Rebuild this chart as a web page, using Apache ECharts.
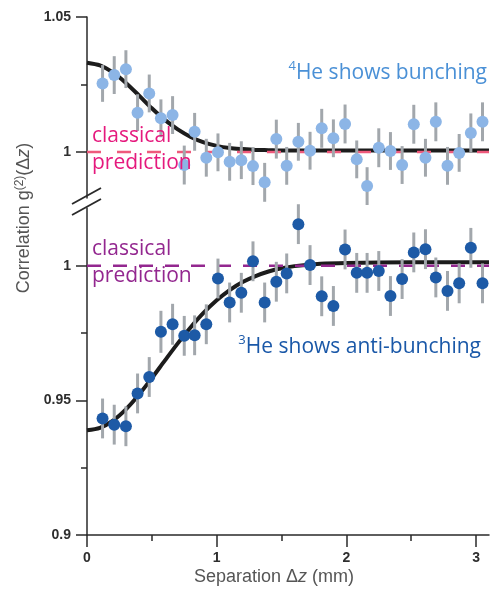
<!DOCTYPE html>
<html>
<head>
<meta charset="utf-8">
<script src="https://cdn.jsdelivr.net/npm/echarts@6/dist/echarts.min.js"></script>
<style>
html,body{margin:0;padding:0;background:#fff;}
#chart{width:490px;height:600px;}
</style>
</head>
<body>
<div id="chart"></div>
<script>
// ---- data ----
const separation = [0.12, 0.21, 0.30, 0.39, 0.48, 0.57, 0.66, 0.75, 0.83, 0.92, 1.01, 1.10, 1.19, 1.28, 1.37, 1.46, 1.54, 1.63, 1.72, 1.81, 1.90, 1.99, 2.08, 2.16, 2.25, 2.34, 2.43, 2.52, 2.61, 2.69, 2.78, 2.87, 2.96, 3.05];
const he4Values = [1.0254, 1.0285, 1.0307, 1.0146, 1.0217, 1.0125, 1.0137, 0.9952, 1.0075, 0.9979, 0.9999, 0.9964, 0.9970, 0.9948, 0.9888, 1.0048, 0.9949, 1.0038, 1.0005, 1.0088, 1.0051, 1.0104, 0.9973, 0.9874, 1.0016, 1.0004, 0.9952, 1.0103, 0.9979, 1.0112, 0.9949, 0.9997, 1.0071, 1.0112];
const he4Errors = [0.0068, 0.0070, 0.0070, 0.0068, 0.0070, 0.0070, 0.0070, 0.0072, 0.0070, 0.0070, 0.0070, 0.0070, 0.0070, 0.0070, 0.0072, 0.0072, 0.0070, 0.0070, 0.0070, 0.0072, 0.0070, 0.0072, 0.0070, 0.0070, 0.0072, 0.0070, 0.0070, 0.0072, 0.0070, 0.0072, 0.0070, 0.0070, 0.0072, 0.0072];
const he3Values = [0.9433, 0.9410, 0.9404, 0.9526, 0.9587, 0.9755, 0.9783, 0.9740, 0.9742, 0.9783, 0.9953, 0.9864, 0.9900, 1.0017, 0.9864, 0.9941, 0.9972, 1.0155, 1.0003, 0.9887, 0.9851, 1.0061, 0.9974, 0.9974, 0.9981, 0.9888, 0.9951, 1.0050, 1.0062, 0.9957, 0.9907, 0.9935, 1.0067, 0.9935];
const he3Errors = [0.0074, 0.0074, 0.0074, 0.0074, 0.0074, 0.0078, 0.0076, 0.0074, 0.0074, 0.0074, 0.0074, 0.0074, 0.0074, 0.0074, 0.0074, 0.0074, 0.0074, 0.0074, 0.0074, 0.0074, 0.0074, 0.0074, 0.0074, 0.0074, 0.0074, 0.0074, 0.0074, 0.0074, 0.0074, 0.0074, 0.0074, 0.0074, 0.0074, 0.0074];
const fitX = [0, 0.1, 0.2, 0.3, 0.4, 0.5, 0.6, 0.7, 0.8, 0.9, 1.0, 1.1, 1.2, 1.3, 1.4, 1.5, 1.6, 1.8, 2.0, 2.5, 3.1];
const he4Fit = [1.0331, 1.0321, 1.0295, 1.0256, 1.0210, 1.0162, 1.0119, 1.0084, 1.0056, 1.0036, 1.0023, 1.0015, 1.0011, 1.0008, 1.0007, 1.0006, 1.0006, 1.0006, 1.0006, 1.0006, 1.0006];
const he3Fit = [0.9389, 0.9398, 0.9425, 0.9467, 0.9521, 0.9583, 0.9648, 0.9712, 0.9772, 0.9826, 0.9872, 0.9910, 0.9940, 0.9962, 0.9979, 0.9991, 0.9999, 1.0008, 1.0011, 1.0013, 1.0013];
const classicalX = [0, 3.1];
const classicalValue = 1;
const xMajorTicks = [0, 1, 2, 3];
const xMinorTicks = [0.5, 1.5, 2.5];
const topMajorTicks = [1, 1.05];
const topMinorTicks = [1.025];
const bottomMajorTicks = [0.9, 0.95, 1];
const bottomMinorTicks = [0.925, 0.975];

// ---- build ----
const zip = (xs, ys) => xs.map((x, i) => [x, ys[i]]);
const zip3 = (xs, ys, es) => xs.map((x, i) => [x, ys[i], es[i]]);

const AX = '#2a2a2a';
const labelFont = {fontFamily: 'Liberation Sans', fontWeight: 'bold', fontSize: 14, color: '#2e2e2e'};

function errRender(params, api) {
  const x = api.value(0), y = api.value(1), e = api.value(2);
  const p1 = api.coord([x, y + e]);
  const p2 = api.coord([x, y - e]);
  return {type: 'line', shape: {x1: p1[0], y1: p1[1], x2: p2[0], y2: p2[1]},
          style: {stroke: '#a2a7ac', lineWidth: 3}};
}

function yMain(grid, min, max, majors) {
  return {
    type: 'value', gridIndex: grid, min: min, max: max,
    axisLine: {show: true, onZero: false, lineStyle: {color: AX, width: 1.5}},
    axisTick: {show: true, customValues: majors, length: 11, lineStyle: {color: AX, width: 1.5}},
    axisLabel: Object.assign({show: true, customValues: majors, margin: 16}, labelFont),
    splitLine: {show: false}
  };
}
function yMinor(grid, min, max, minors) {
  return {
    type: 'value', gridIndex: grid, min: min, max: max, position: 'left',
    axisLine: {show: false},
    axisTick: {show: true, customValues: minors, length: 6, lineStyle: {color: AX, width: 1.5}},
    axisLabel: {show: false},
    splitLine: {show: false}
  };
}

const option = {
  animation: false,
  backgroundColor: '#ffffff',
  grid: [
    {left: 87, width: 402, top: 17, height: 181},
    {left: 87, width: 402, top: 208, bottom: 65}
  ],
  xAxis: [
    {type: 'value', gridIndex: 0, min: 0, max: 3.1, show: false},
    {type: 'value', gridIndex: 1, min: 0, max: 3.1,
     axisLine: {show: true, onZero: false, lineStyle: {color: AX, width: 1.5}},
     axisTick: {show: true, customValues: xMajorTicks, length: 12, lineStyle: {color: AX, width: 1.5}},
     axisLabel: Object.assign({show: true, customValues: xMajorTicks, margin: 16}, labelFont),
     splitLine: {show: false}},
    {type: 'value', gridIndex: 1, min: 0, max: 3.1, position: 'bottom',
     axisLine: {show: false},
     axisTick: {show: true, customValues: xMinorTicks, length: 6, lineStyle: {color: AX, width: 1.5}},
     axisLabel: {show: false}, splitLine: {show: false}}
  ],
  yAxis: [
    yMain(0, 0.983, 1.05, topMajorTicks),
    yMinor(0, 0.983, 1.05, topMinorTicks),
    yMain(1, 0.9, 1.0215, bottomMajorTicks),
    yMinor(1, 0.9, 1.0215, bottomMinorTicks)
  ],
  series: [
    // top panel (4He)
    {type: 'line', xAxisIndex: 0, yAxisIndex: 0, data: zip(fitX, he4Fit), smooth: 0.3,
     showSymbol: false, lineStyle: {color: '#1c1c1c', width: 4}, z: 2},
    {type: 'line', xAxisIndex: 0, yAxisIndex: 0, data: classicalX.map(x => [x, classicalValue]),
     showSymbol: false, lineStyle: {color: '#ee5a7c', width: 2.5, type: [14, 16]}, z: 3},
    {type: 'custom', xAxisIndex: 0, yAxisIndex: 0, data: zip3(separation, he4Values, he4Errors),
     renderItem: errRender, encode: {x: 0, y: 1}, z: 4},
    {type: 'scatter', xAxisIndex: 0, yAxisIndex: 0, data: zip(separation, he4Values), symbolSize: 12,
     itemStyle: {color: '#8cb5e6', opacity: 1}, z: 5},
    // bottom panel (3He)
    {type: 'line', xAxisIndex: 1, yAxisIndex: 2, data: zip(fitX, he3Fit), smooth: 0.3,
     showSymbol: false, lineStyle: {color: '#1c1c1c', width: 4}, z: 2},
    {type: 'line', xAxisIndex: 1, yAxisIndex: 2, data: classicalX.map(x => [x, classicalValue]),
     showSymbol: false, lineStyle: {color: '#93278f', width: 2.5, type: [14, 12]}, z: 3},
    {type: 'custom', xAxisIndex: 1, yAxisIndex: 2, data: zip3(separation, he3Values, he3Errors),
     renderItem: errRender, encode: {x: 0, y: 1}, z: 4},
    {type: 'scatter', xAxisIndex: 1, yAxisIndex: 2, data: zip(separation, he3Values), symbolSize: 12,
     itemStyle: {color: '#1d5aa6', opacity: 1}, z: 5}
  ],
  graphic: [
    // axis break marks
    {type: 'line', z: 100, shape: {x1: 72, y1: 204, x2: 101, y2: 188}, style: {stroke: '#2a2a2a', lineWidth: 1.8}},
    {type: 'line', z: 100, shape: {x1: 72, y1: 215, x2: 101, y2: 199}, style: {stroke: '#2a2a2a', lineWidth: 1.8}},
    // axis titles
    {type: 'text', z: 100, x: 274, y: 577, style: {
      text: '{a|Separation Δ}{i|z}{a| (mm)}', align: 'center', verticalAlign: 'middle',
      rich: {a: {fontFamily: 'Liberation Sans', fontSize: 18, fill: '#555555'},
             i: {fontFamily: 'Liberation Sans', fontSize: 18, fontStyle: 'italic', fill: '#555555'}}}},
    {type: 'text', z: 100, x: 24, y: 218, rotation: Math.PI / 2, style: {
      text: '{a|Correlation g}{s|(2)}{a|(Δ}{i|z}{a|)}', align: 'center', verticalAlign: 'middle',
      rich: {a: {fontFamily: 'Liberation Sans', fontSize: 18, fill: '#555555', lineHeight: 21},
             s: {fontFamily: 'Liberation Sans', fontSize: 12, fill: '#555555', lineHeight: 12, verticalAlign: 'top'},
             i: {fontFamily: 'Liberation Sans', fontSize: 18, fontStyle: 'italic', fill: '#555555', lineHeight: 21}}}},
    // annotations
    {type: 'text', z: 100, x: 92, y: 136, style: {text: 'classical', fontFamily: 'Open Sans', fontSize: 21, fill: '#e5197d', verticalAlign: 'middle'}},
    {type: 'text', z: 100, x: 92, y: 163, style: {text: 'prediction', fontFamily: 'Open Sans', fontSize: 21, fill: '#e5197d', verticalAlign: 'middle'}},
    {type: 'text', z: 100, x: 92, y: 249, style: {text: 'classical', fontFamily: 'Open Sans', fontSize: 21, fill: '#93278f', verticalAlign: 'middle'}},
    {type: 'text', z: 100, x: 92, y: 276, style: {text: 'prediction', fontFamily: 'Open Sans', fontSize: 21, fill: '#93278f', verticalAlign: 'middle'}},
    {type: 'text', z: 100, x: 487, y: 73, style: {
      text: '{s|4}{t|He shows bunching}', align: 'right', verticalAlign: 'middle',
      rich: {t: {fontFamily: 'Open Sans', fontSize: 21, fill: '#4a90d6', lineHeight: 26},
             s: {fontFamily: 'Open Sans', fontSize: 13, fill: '#4a90d6', lineHeight: 15, verticalAlign: 'top'}}}},
    {type: 'text', z: 100, x: 481, y: 347, style: {
      text: '{s|3}{t|He shows anti-bunching}', align: 'right', verticalAlign: 'middle',
      rich: {t: {fontFamily: 'Open Sans', fontSize: 21, fill: '#1a58a8', lineHeight: 26},
             s: {fontFamily: 'Open Sans', fontSize: 13, fill: '#1a58a8', lineHeight: 15, verticalAlign: 'top'}}}}
  ]
};

const chart = echarts.init(document.getElementById('chart'), null, {renderer: 'canvas'});
chart.setOption(option);
</script>
</body>
</html>
